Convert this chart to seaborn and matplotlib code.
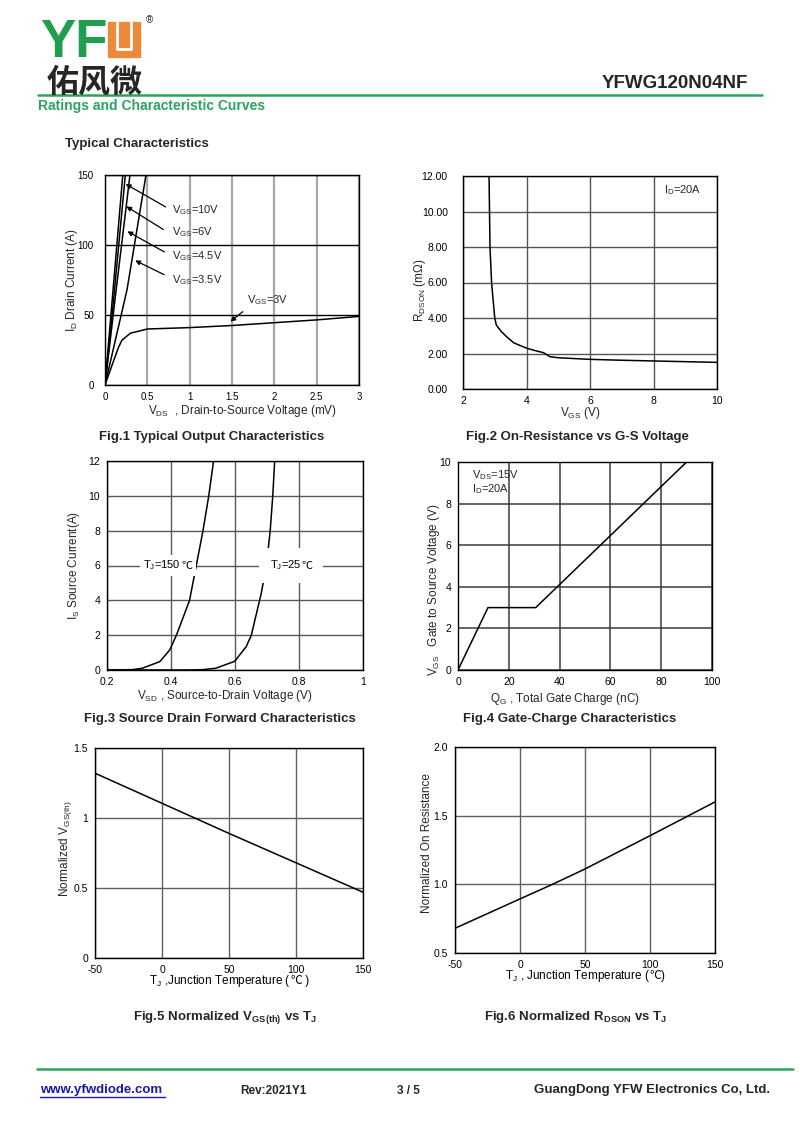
import matplotlib
matplotlib.use("Agg")
import matplotlib.pyplot as plt
import seaborn as sns
from matplotlib.patches import Rectangle
from matplotlib.lines import Line2D
from matplotlib.offsetbox import TextArea, HPacker, AnnotationBbox

# ---- Fig.1 output characteristics (VDS, ID) ----
vds_10v = [0, 0.21]
id_10v = [0, 150]
vds_6v = [0, 0.10, 0.24]
id_6v = [0, 60, 150]
vds_45v = [0, 0.12, 0.295]
id_45v = [0, 62, 150]
vds_35v = [0, 0.26, 0.484]
id_35v = [0, 68, 150]
vds_3v = [0, 0.10, 0.16, 0.20, 0.30, 0.50, 1.0, 1.5, 2.0, 2.5, 3.0]
id_3v = [0, 17, 27, 32, 37, 40, 41, 42.5, 44.5, 46.5, 49]

# ---- Fig.2 on-resistance vs VGS ----
vgs_r = [2.82, 2.85, 2.9, 2.95, 3.0, 3.05, 3.2, 3.37, 3.6, 4.0, 4.3, 4.53, 4.74, 5.0, 6.0, 7.0, 8.0, 9.0, 10.0]
rdson = [12.0, 8.0, 6.0, 5.0, 4.0, 3.6, 3.25, 2.95, 2.6, 2.3, 2.15, 2.05, 1.82, 1.76, 1.67, 1.62, 1.58, 1.54, 1.5]

# ---- Fig.3 source-drain forward ----
vsd_150 = [0.2, 0.28, 0.31, 0.365, 0.396, 0.417, 0.458, 0.479, 0.50, 0.518, 0.533]
is_150 = [0, 0.02, 0.1, 0.48, 1.15, 2.0, 4.0, 6.0, 8.0, 10.0, 12.0]
vsd_25 = [0.2, 0.45, 0.50, 0.54, 0.599, 0.635, 0.651, 0.682, 0.698, 0.71, 0.718, 0.724]
is_25 = [0, 0, 0.02, 0.1, 0.5, 1.34, 2.0, 4.4, 6.0, 8.0, 10.0, 12.0]

# ---- Fig.4 gate charge ----
qg = [0, 11.8, 30.6, 90]
vgs_q = [0, 3.0, 3.0, 10.0]

# ---- Fig.5 normalized VGS(th) vs TJ ----
tj5 = [-50, 0, 50, 100, 150]
vth_norm = [1.32, 1.105, 0.89, 0.68, 0.47]

# ---- Fig.6 normalized RDSON vs TJ ----
tj6 = [-50, 0, 25, 50, 100, 150]
rdson_norm = [0.68, 0.894, 1.0, 1.112, 1.354, 1.60]

sns.set_style("white")
plt.rcParams['font.family'] = ['Liberation Sans', 'DejaVu Sans']
plt.rcParams['mathtext.fontset'] = 'custom'
plt.rcParams['mathtext.rm'] = 'Liberation Sans'
plt.rcParams['mathtext.it'] = 'Liberation Sans:italic'
plt.rcParams['mathtext.bf'] = 'Liberation Sans:bold'
plt.rcParams['axes.unicode_minus'] = False

W, H = 800, 1131
fig = plt.figure(figsize=(8, 11.31), dpi=100)
GREEN = '#2ca25f'
CJK = ['Noto Sans CJK SC', 'DejaVu Sans']


def fx(px):
    return px / W


def fy(py):
    return 1 - py / H


def make_ax(l, r, t, b, ypad=5, size=7.5):
    ax = fig.add_axes([fx(l), fy(b), (r - l) / W, (b - t) / H])
    for s in ax.spines.values():
        s.set_color('black')
        s.set_linewidth(1.0)
        s.set_visible(True)
    ax.tick_params(length=0, labelsize=size, pad=5, colors='black')
    ax.tick_params(axis='y', pad=ypad)
    return ax


def curve(ax, x, y):
    sns.lineplot(x=x, y=y, ax=ax, color='black', lw=1.1, estimator=None, sort=False)


def mixed_text(ax, parts, xy, coords='axes fraction', size=8.5, bg=None, pad=0.3):
    # parts: list of (text, is_celsius) pieces packed on one baseline
    kids = []
    for txt, cel in parts:
        props = dict(fontsize=size, color='black')
        if cel:
            props['family'] = CJK
        kids.append(TextArea(txt, textprops=props))
    box = HPacker(children=kids, align='baseline', pad=0, sep=0)
    ab = AnnotationBbox(box, xy, xycoords=coords, box_alignment=(0.5, 0.5),
                        frameon=bg is not None, pad=pad, annotation_clip=False, zorder=3)
    if bg is not None:
        ab.patch.set_facecolor(bg)
        ab.patch.set_edgecolor('none')
    ax.add_artist(ab)


# ---------- header ----------
fig.text(fx(40), fy(57), 'YF', color='#1f9e4c', fontsize=38, fontweight='bold', va='baseline')
fig.patches.append(Rectangle((fx(108), fy(57)), 32 / W, 35 / H, transform=fig.transFigure,
                             color='#ea8a3a', figure=fig))
fig.lines.append(Line2D([fx(117), fx(117), fx(131), fx(131)], [fy(22), fy(49), fy(49), fy(22)],
                        transform=fig.transFigure, color='white', lw=2, figure=fig))
fig.text(fx(146), fy(20), '®', fontsize=7, va='center')
fig.text(fx(47), fy(92), '佑风微', fontsize=23, family=CJK, fontweight='bold', va='baseline')
fig.text(fx(748), fy(83), 'YFWG120N04NF', fontsize=13.5, fontweight='bold', ha='right', va='center')
fig.lines.append(Line2D([fx(38), fx(762)], [fy(95), fy(95)], transform=fig.transFigure,
                        color=GREEN, lw=1.8, figure=fig))
fig.text(fx(38), fy(106), 'Ratings and Characteristic Curves', color=GREEN, fontsize=10,
         fontweight='bold', va='center')
fig.text(fx(65), fy(144), 'Typical Characteristics', fontsize=9.5, fontweight='bold', va='center')

# ---------- Fig.1 ----------
ax1 = make_ax(105, 359, 175, 385, ypad=8, size=7)
ax1.set_xlim(0, 3)
ax1.set_ylim(0, 150)
ax1.set_xticks([0, 0.5, 1, 1.5, 2, 2.5, 3])
ax1.set_xticklabels(['0', '0.5', '1', '1.5', '2', '2.5', '3'])
ax1.set_yticks([0, 50, 100, 150])
ax1.xaxis.grid(True, color='#a8a8a8', lw=1.6)
ax1.yaxis.grid(True, color='black', lw=1.0)
for xs, ys in [(vds_10v, id_10v), (vds_6v, id_6v), (vds_45v, id_45v), (vds_35v, id_35v), (vds_3v, id_3v)]:
    curve(ax1, xs, ys)
ax1.set_xlabel('V$_{\\rm DS}$  , Drain-to-Source Voltage (mV)', fontsize=8.5)
ax1.set_ylabel('I$_{\\rm D}$ Drain Current (A)', fontsize=8.5)
ax1.xaxis.set_label_coords(0.54, -0.085)
ax1.yaxis.set_label_coords(-0.1, 0.5)
arrows1 = [('V$_{\\rm GS}$=10V', 125, (0.745, 126.2), (0.216, 144.5)),
           ('V$_{\\rm GS}$=6V', 109.3, (0.717, 110), (0.224, 128.6)),
           ('V$_{\\rm GS}$=4.5V', 92.1, (0.729, 94.1), (0.236, 110.7)),
           ('V$_{\\rm GS}$=3.5V', 75, (0.729, 77.9), (0.327, 89.8))]
for lab, ty, tail, tip in arrows1:
    ax1.text(0.79, ty, lab, fontsize=8, va='center')
    ax1.annotate('', xy=tip, xytext=tail,
                 arrowprops=dict(arrowstyle='-|>', color='black', lw=0.9, mutation_scale=7))
ax1.text(1.68, 60.7, 'V$_{\\rm GS}$=3V', fontsize=8, va='center')
ax1.annotate('', xy=(1.456, 44.1), xytext=(1.653, 53.6),
             arrowprops=dict(arrowstyle='-|>', color='black', lw=0.9, mutation_scale=7))

# ---------- Fig.2 ----------
ax2 = make_ax(463, 717, 176, 389, ypad=11)
ax2.set_xlim(2, 10)
ax2.set_ylim(0, 12)
ax2.set_xticks([2, 4, 6, 8, 10])
ax2.set_yticks([0, 2, 4, 6, 8, 10, 12])
ax2.set_yticklabels(['0.00', '2.00', '4.00', '6.00', '8.00', '10.00', '12.00'])
ax2.grid(True, color='#555555', lw=1.0)
curve(ax2, vgs_r, rdson)
ax2.set_xlabel('V$_{\\rm GS}$ (V)', fontsize=8.5)
ax2.set_ylabel('R$_{\\rm DSON}$ (mΩ)', fontsize=8.5)
ax2.xaxis.set_label_coords(0.46, -0.075)
ax2.yaxis.set_label_coords(-0.138, 0.465)
ax2.text(8.33, 11.2, 'I$_{\\rm D}$=20A', fontsize=8, va='center')

# ---------- Fig.3 ----------
ax3 = make_ax(107, 363, 461, 670)
ax3.set_xlim(0.2, 1.0)
ax3.set_ylim(0, 12)
ax3.set_xticks([0.2, 0.4, 0.6, 0.8, 1.0])
ax3.set_xticklabels(['0.2', '0.4', '0.6', '0.8', '1'])
ax3.set_yticks([0, 2, 4, 6, 8, 10, 12])
ax3.grid(True, color='#5a5a5a', lw=1.0)
curve(ax3, vsd_150, is_150)
curve(ax3, vsd_25, is_25)
ax3.set_xlabel('V$_{\\rm SD}$ , Source-to-Drain Voltage (V)', fontsize=8.5)
ax3.set_ylabel('I$_{\\rm S}$ Source Current(A)', fontsize=8.5)
ax3.xaxis.set_label_coords(0.46, -0.085)
ax3.yaxis.set_label_coords(-0.098, 0.5)
mixed_text(ax3, [('T$_{\\rm J}$=150', False), ('℃', True)], (0.39, 6), coords='data',
           size=8, bg='white', pad=0.25)
mixed_text(ax3, [('T$_{\\rm J}$=25', False), ('℃', True)], (0.775, 6), coords='data',
           size=8, bg='white', pad=0.75)

# ---------- Fig.4 ----------
ax4 = make_ax(458, 712, 462, 670)
ax4.set_xlim(0, 100)
ax4.set_ylim(0, 10)
ax4.set_xticks([0, 20, 40, 60, 80, 100])
ax4.set_yticks([0, 2, 4, 6, 8, 10])
ax4.grid(True, color='#3a3a3a', lw=1.1)
curve(ax4, qg, vgs_q)
ax4.set_xlabel('Q$_{\\rm G}$ , Total Gate Charge (nC)', fontsize=8.5)
ax4.set_ylabel('V$_{\\rm GS}$   Gate to Source Voltage (V)', fontsize=8.5)
ax4.xaxis.set_label_coords(0.42, -0.1)
ax4.yaxis.set_label_coords(-0.063, 0.385)
ax4.text(5.5, 9.375, 'V$_{\\rm DS}$=15V', fontsize=8, va='center')
ax4.text(5.5, 8.7, 'I$_{\\rm D}$=20A', fontsize=8, va='center')

# ---------- Fig.5 ----------
ax5 = make_ax(95, 363, 748, 958)
ax5.set_xlim(-50, 150)
ax5.set_ylim(0, 1.5)
ax5.set_xticks([-50, 0, 50, 100, 150])
ax5.set_yticks([0, 0.5, 1, 1.5])
ax5.set_yticklabels(['0', '0.5', '1', '1.5'])
ax5.grid(True, color='#606060', lw=1.0)
curve(ax5, tj5, vth_norm)
ax5.set_xlabel('')
mixed_text(ax5, [('T$_{\\rm J}$ ,Junction Temperature ( ', False), ('℃', True), (' )', False)],
           (0.5, -0.11))
ax5.set_ylabel('Normalized V$_{\\rm GS(th)}$', fontsize=8.5)
ax5.yaxis.set_label_coords(-0.078, 0.52)

# ---------- Fig.6 ----------
ax6 = make_ax(455, 715, 747, 953)
ax6.set_xlim(-50, 150)
ax6.set_ylim(0.5, 2.0)
ax6.set_xticks([-50, 0, 50, 100, 150])
ax6.set_yticks([0.5, 1.0, 1.5, 2.0])
ax6.set_yticklabels(['0.5', '1.0', '1.5', '2.0'])
ax6.grid(True, color='#606060', lw=1.0)
curve(ax6, tj6, rdson_norm)
ax6.set_xlabel('')
mixed_text(ax6, [('T$_{\\rm J}$ , Junction Temperature (', False), ('℃', True), (')', False)],
           (0.5, -0.11))
ax6.set_ylabel('Normalized On Resistance', fontsize=8.5)
ax6.yaxis.set_label_coords(-0.085, 0.535)

# ---------- captions ----------
captions = [(212, 437, 'Fig.1 Typical Output Characteristics'),
            (577, 437, 'Fig.2 On-Resistance vs G-S Voltage'),
            (220, 719, 'Fig.3 Source Drain Forward Characteristics'),
            (570, 719, 'Fig.4 Gate-Charge Characteristics'),
            (225, 1017, 'Fig.5 Normalized V$_{\\mathbf{GS(th)}}$ vs T$_{\\mathbf{J}}$'),
            (576, 1017, 'Fig.6 Normalized R$_{\\mathbf{DSON}}$ vs T$_{\\mathbf{J}}$')]
for cx, cy, txt in captions:
    fig.text(fx(cx), fy(cy), txt, fontsize=9.5, fontweight='bold', ha='center', va='center')

# ---------- footer ----------
fig.lines.append(Line2D([fx(37), fx(793)], [fy(1069), fy(1069)], transform=fig.transFigure,
                        color=GREEN, lw=1.8, figure=fig))
fig.text(fx(40), fy(1090), 'www.yfwdiode.com', color='#1a1aa8', fontsize=9.5, fontweight='bold', va='center')
fig.lines.append(Line2D([fx(40), fx(165)], [fy(1097), fy(1097)], transform=fig.transFigure,
                        color='#1a1aa8', lw=1, figure=fig))
fig.text(fx(240), fy(1091), 'Rev:2021Y1', fontsize=8.5, fontweight='bold', va='center')
fig.text(fx(397), fy(1091), '3 / 5', fontsize=8.5, fontweight='bold', va='center')
fig.text(fx(770), fy(1090), 'GuangDong YFW Electronics Co, Ltd.', fontsize=9.5, fontweight='bold',
         ha='right', va='center')

fig.savefig('out.png', dpi=100, facecolor='white')
